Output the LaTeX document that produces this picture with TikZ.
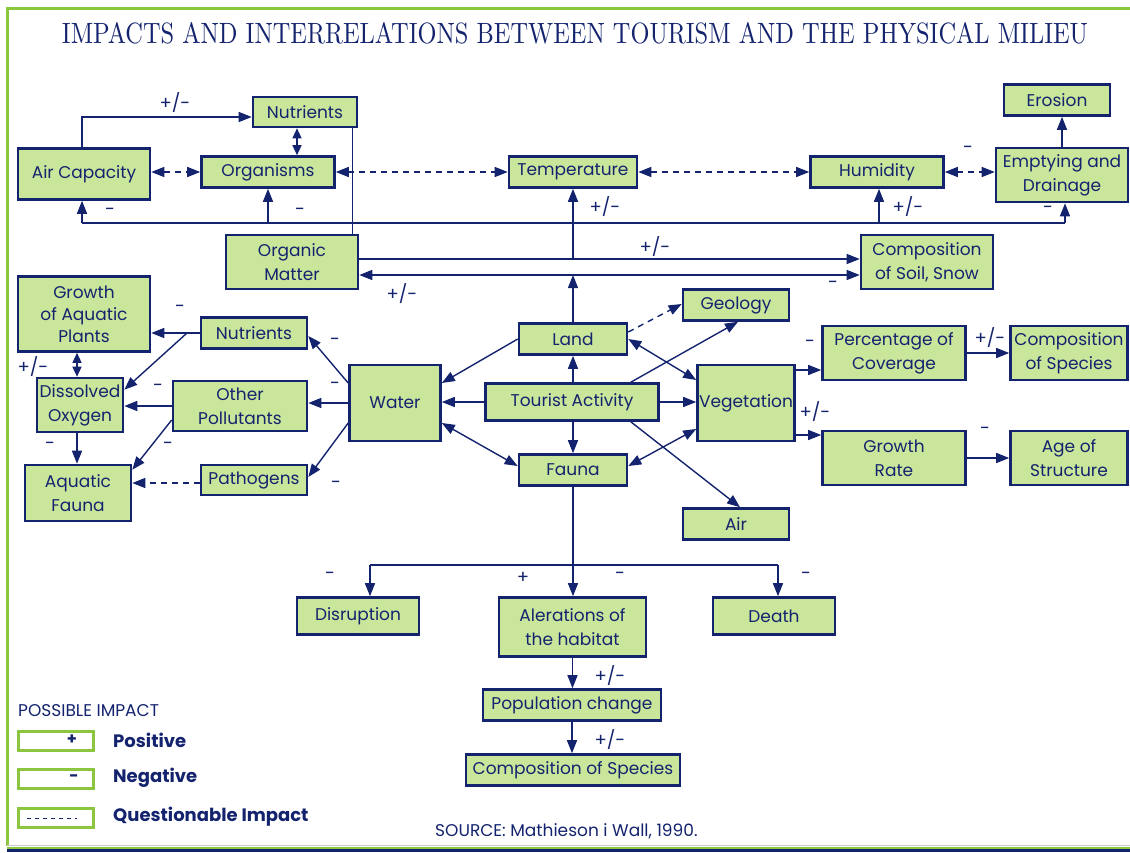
\documentclass[tikz,border=0pt]{standalone}
\usepackage{graphicx}
\usepackage{fontspec}
\setmainfont{Poppins}
\newcommand\titlefont{\fontfamily{lmr}\selectfont}
\usetikzlibrary{arrows.meta,calc}
\definecolor{navy}{HTML}{14236E}
\definecolor{boxgreen}{HTML}{C9E69B}
\definecolor{framegreen}{HTML}{8CC63F}
\definecolor{rulegray}{HTML}{C8C8C8}

\begin{document}
\begin{tikzpicture}[x=1pt,y=-1pt,
  box/.style={draw=navy, line width=2.6pt, fill=boxgreen, text=navy,
    font=\fontsize{17}{24}\selectfont, align=center, inner sep=0pt},
  link/.style={draw=navy, line width=1.4pt},
  arr/.style={link, -{Triangle[length=13pt,width=10pt]}},
  darr/.style={link, {Triangle[length=13pt,width=10pt]}-{Triangle[length=13pt,width=10pt]}},
  sdarr/.style={link, {Triangle[length=10pt,width=9pt]}-{Triangle[length=10pt,width=9pt]}},
  dsh/.style={dash pattern=on 6pt off 5pt},
  sign/.style={text=navy, font=\fontsize{18}{20}\selectfont, inner sep=0pt},
  keybox/.style={draw=framegreen, line width=2.5pt, fill=white,
    minimum width=75pt, minimum height=19pt, inner sep=0pt},
  keytext/.style={text=navy, font=\fontsize{18}{20}\selectfont\bfseries, anchor=west, inner sep=0pt},
]
\useasboundingbox (0,0) rectangle (1130,852);

% frame
\draw[framegreen, line width=3pt] (7,846) -- (7,8) -- (1130,8);
\draw[rulegray, line width=1pt] (7,845.5) -- (1130,845.5);
\draw[framegreen, line width=2pt] (7,847.5) -- (1130,847.5);
\draw[navy, line width=3pt] (7,850.5) -- (1130,850.5);

% title
\node[text=navy, inner sep=0pt] (title) at (575,33)
  {\resizebox{1026pt}{21pt}{\titlefont IMPACTS AND INTERRELATIONS BETWEEN TOURISM AND THE PHYSICAL MILIEU}};

% boxes
\node[box, minimum width=104pt, minimum height=30pt] (nutT) at (305,112) {Nutrients};
\node[box, minimum width=132pt, minimum height=51pt] (air) at (84,174) {Air Capacity};
\node[box, minimum width=133pt, minimum height=31pt] (org) at (268,172) {Organisms};
\node[box, minimum width=128pt, minimum height=31pt] (temp) at (573,172) {Temperature};
\node[box, minimum width=133pt, minimum height=31pt] (hum) at (877,172) {Humidity};
\node[box, minimum width=132pt, minimum height=54pt] (empt) at (1062,175) {Emptying and\\Drainage};
\node[box, minimum width=106pt, minimum height=31pt] (eros) at (1057,100) {Erosion};
\node[box, minimum width=132pt, minimum height=54pt] (om) at (292,262) {Organic\\Matter};
\node[box, minimum width=132pt, minimum height=54pt] (soil) at (927,262) {Composition\\of Soil, Snow};
\node[box, minimum width=132pt, minimum height=75pt, font=\fontsize{17}{22}\selectfont] (gap) at (84,314) {Growth\\of Aquatic\\Plants};
\node[box, minimum width=106pt, minimum height=31pt] (nutW) at (254,333) {Nutrients};
\node[box, minimum width=86pt, minimum height=54pt] (dox) at (80,405) {Dissolved\\Oxygen};
\node[box, minimum width=134pt, minimum height=50pt] (oth) at (240,406) {Other\\Pollutants};
\node[box, minimum width=106pt, minimum height=56pt] (afa) at (78,493) {Aquatic\\Fauna};
\node[box, minimum width=106pt, minimum height=30pt] (path) at (254,480) {Pathogens};
\node[box, minimum width=91pt, minimum height=76pt] (water) at (395,403) {Water};
\node[box, minimum width=108pt, minimum height=31pt] (land) at (573,339) {Land};
\node[box, minimum width=173pt, minimum height=37pt] (ta) at (572,402) {Tourist Activity};
\node[box, minimum width=108pt, minimum height=31pt] (fauna) at (573,470) {Fauna};
\node[box, minimum width=106pt, minimum height=31pt] (geo) at (736,305) {Geology};
\node[box, minimum width=97pt, minimum height=76pt] (veg) at (746,403) {Vegetation};
\node[box, minimum width=106pt, minimum height=31pt] (airB) at (736,524) {Air};
\node[box, minimum width=143pt, minimum height=54pt] (pct) at (894,353) {Percentage of\\Coverage};
\node[box, minimum width=117pt, minimum height=54pt] (cos) at (1069,353) {Composition\\of Species};
\node[box, minimum width=143pt, minimum height=54pt] (gr) at (894,458) {Growth\\Rate};
\node[box, minimum width=117pt, minimum height=54pt] (age) at (1069,458) {Age of\\Structure};
\node[box, minimum width=122pt, minimum height=37pt] (dis) at (358,616) {Disruption};
\node[box, minimum width=147pt, minimum height=59pt] (alt) at (572.5,627) {Alerations of\\the habitat};
\node[box, minimum width=122pt, minimum height=37pt] (death) at (774,616) {Death};
\node[box, minimum width=178pt, minimum height=31pt] (pop) at (572,705) {Population change};
\node[box, minimum width=214pt, minimum height=31pt] (cosB) at (573,770) {Composition of Species};

% upper connectors
\draw[arr] ([xshift=-2pt]air.north) |- ([yshift=-5pt]nutT.west);
\coordinate (nt) at ([xshift=-8pt]nutT.south);
\draw[sdarr] (nt) -- (nt |- org.north);
\draw[darr,dsh] (air.east |- org.west) -- (org.west);
\draw[darr,dsh] (org.east) -- (temp.west);
\draw[darr,dsh] (temp.east) -- (hum.west);
\draw[darr,dsh] (hum.east) -- (hum.east -| empt.west);
\draw[arr] (empt.north) -- (empt.north |- eros.south);
\coordinate (nd) at ([xshift=-6pt]nutT.south east);
\draw[link] (nd) -- (nd |- om.north);

% shared line below the climate row
\coordinate (busA) at (82,223);
\coordinate (busO) at (268,223);
\coordinate (busH) at (879,223);
\coordinate (busE) at (1065,223);
\draw[link] (busA) -- (busE);
\draw[arr] (busA) -- (busA |- air.south);
\draw[arr] (busO) -- (busO |- org.south);
\draw[arr] (busH) -- (busH |- hum.south);
\draw[arr] (busE) -- (busE |- empt.south);

% organic matter and soil
\coordinate (jA) at ([yshift=3pt]om.east);
\coordinate (jB) at ([yshift=-13pt]om.east);
\draw[arr] (jA) -- (jA -| soil.west);
\draw[darr] (jB) -- (jB -| soil.west);
\draw[arr] (temp.south |- jA) -- (temp.south);
\draw[arr] (land.north) -- (land.north |- jB);

% water branch
\coordinate (nj) at (187,333);
\draw[arr] (nutW.west) -- (nutW.west -| gap.east);
\draw[arr] (nj) -- ([yshift=-13pt]dox.north east);
\draw[sdarr] ([xshift=-3pt]dox.north |- gap.south) -- ([xshift=-3pt]dox.north);
\draw[arr] (oth.west) -- (oth.west -| dox.east);
\draw[arr] ([yshift=-14pt]oth.west) -- ([yshift=-6pt]afa.north east);
\draw[arr] ([xshift=-3pt]dox.south) -- ([xshift=-3pt]dox.south |- afa.north);
\draw[arr,dsh] ([yshift=-3pt]path.west) -- ([yshift=-3pt]path.west -| afa.east);
\draw[arr] ([yshift=20pt]water.west) -- ([yshift=-3pt]nutW.east);
\draw[arr] (water.west) -- (water.west -| oth.east);
\draw[arr] ([yshift=-20pt]water.west) -- ([yshift=3pt]path.east);

% tourist activity hub
\draw[arr] (ta.west) -- (ta.west -| water.east);
\draw[arr] (land.south |- ta.north) -- (land.south);
\draw[arr] (fauna.north |- ta.south) -- (fauna.north);
\draw[arr] (ta.east) -- (ta.east -| veg.west);
\draw[arr] ([xshift=-29pt]ta.north east) -- ([xshift=2pt]geo.south);
\draw[arr] ([xshift=-29pt]ta.south east) -- ([xshift=4pt]airB.north);
\draw[arr] (land.west) -- ([yshift=20pt]water.east);
\draw[arr,dsh] ([yshift=7pt]land.east) -- ([yshift=1pt]geo.west);
\draw[darr] (land.east) -- ([yshift=23pt]veg.west);
\draw[darr] ([yshift=-20pt]water.east) -- ([yshift=4pt]fauna.west);
\draw[darr] ([yshift=4pt]fauna.east) -- ([yshift=-26pt]veg.west);

% vegetation branch
\coordinate (v1) at ([yshift=33pt]veg.east);
\coordinate (v2) at ([yshift=-32pt]veg.east);
\draw[arr] (v1) -- (v1 -| pct.west);
\draw[arr] (v2) -- (v2 -| gr.west);
\draw[arr] (pct.east) -- (pct.east -| cos.west);
\draw[arr] (gr.east) -- (gr.east -| age.west);

% fauna branch
\coordinate (fl) at (370,565);
\coordinate (fr) at (778,565);
\draw[arr] (fauna.south) -- (fauna.south |- alt.north);
\draw[link] (fl) -- (fr);
\draw[arr] (fl) -- (fl |- dis.north);
\draw[arr] (fr) -- (fr |- death.north);
\draw[arr] (alt.south) -- (alt.south |- pop.north);
\draw[arr] (pop.south) -- (pop.south |- cosB.north);

% signs
\node[sign] (s1) at (175,103) {+/-};
\node[sign] (s2) at (110,212) {-};
\node[sign] (s3) at (300,212) {-};
\node[sign] (s4) at (605,207) {+/-};
\node[sign] (s5) at (655,247) {+/-};
\node[sign] (s6) at (908,207) {+/-};
\node[sign] (s7) at (968,150) {-};
\node[sign] (s8) at (1048,210) {-};
\node[sign] (s9) at (402,294) {+/-};
\node[sign] (s10) at (833,285) {-};
\node[sign] (s11) at (180,309) {-};
\node[sign] (s12) at (33,367) {+/-};
\node[sign] (s13) at (158,388) {-};
\node[sign] (s14) at (50,446) {-};
\node[sign] (s15) at (168,446) {-};
\node[sign] (s16) at (335,342) {-};
\node[sign] (s17) at (335,386) {-};
\node[sign] (s18) at (336,485) {-};
\node[sign] (s19) at (810,344) {-};
\node[sign] (s20) at (815,412) {+/-};
\node[sign] (s21) at (990,338) {+/-};
\node[sign] (s22) at (985,431) {-};
\node[sign] (s23) at (330,576) {-};
\node[sign] (s24) at (523,578) {+};
\node[sign] (s25) at (620,576) {-};
\node[sign] (s26) at (806,576) {-};
\node[sign] (s27) at (610,676) {+/-};
\node[sign] (s28) at (610,740) {+/-};

% legend
\node[text=navy, anchor=west, inner sep=0pt, font=\fontsize{17}{20}\selectfont] (keyhead) at (18,711) {POSSIBLE IMPACT};
\node[keybox] (k1) at (56,741) {};
\node[keybox] (k2) at (56,779) {};
\node[keybox] (k3) at (56,818) {};
\node[text=navy, inner sep=0pt, font=\fontsize{16}{18}\selectfont\bfseries] (k1s) at (72,740) {+};
\node[text=navy, inner sep=0pt, font=\fontsize{16}{18}\selectfont\bfseries] (k2s) at (74,778) {-};
\draw[navy, line width=1pt, dash pattern=on 4pt off 4pt] ([xshift=10pt]k3.west) -- ([xshift=-18pt]k3.east);
\node[keytext] (k1t) at (113,740) {Positive};
\node[keytext] (k2t) at (113,778) {Negative};
\node[keytext] (k3t) at (113,817) {Questionable Impact};
\node[text=navy, anchor=west, inner sep=0pt, font=\fontsize{17}{20}\selectfont] (src) at (435,831) {SOURCE: Mathieson i Wall, 1990.};
\end{tikzpicture}
\end{document}
